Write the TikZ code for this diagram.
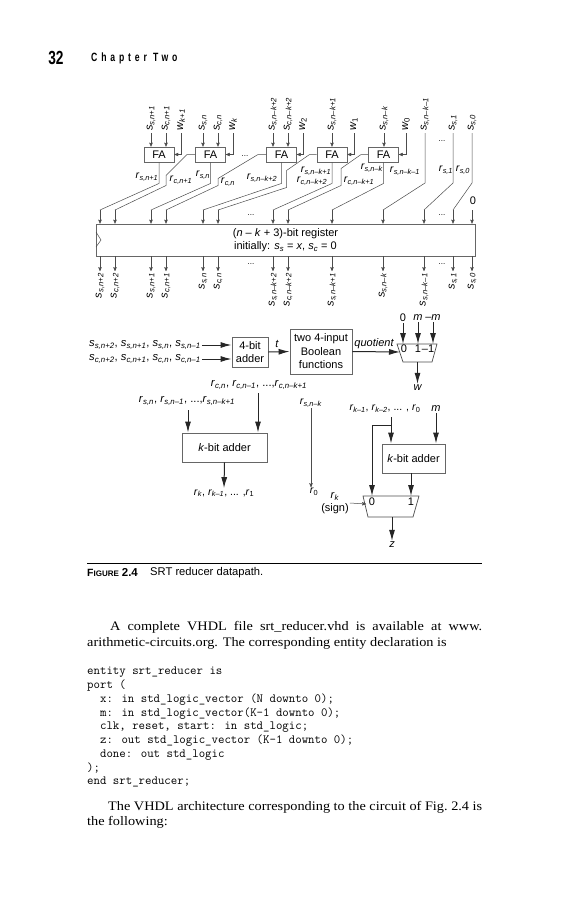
\documentclass[tikz,border=0pt]{standalone}
\usepackage{fontspec}
\usepackage{tikz}
\usetikzlibrary{arrows,arrows.meta}
\setmainfont{Liberation Sans}
\newfontfamily\bookfont[FakeStretch=1.1]{Liberation Serif}
\newfontfamily\headfont[FakeStretch=0.72]{Liberation Sans}
\newfontfamily\chapfont[FakeStretch=0.72,LetterSpace=32]{Liberation Sans}
\tikzset{
  >=stealth',
  wire/.style={draw=black!70, line width=0.5pt},
  bus/.style={draw=black!85, line width=1pt, -{Latex[length=11pt,width=6pt]}},
  block/.style={draw=black!60, line width=0.9pt, inner sep=0pt, align=center, font=\fontsize{11}{13.5}\selectfont},
  fabox/.style={block, minimum width=30pt, minimum height=15pt},
  muxline/.style={draw=black!70, line width=0.7pt},
  lab/.style={inner sep=1pt, font=\fontsize{10.5}{12}\selectfont},
  listlab/.style={inner sep=1pt, font=\fontsize{11.2}{13}\selectfont},
  toplab/.style={lab, rotate=90, anchor=west, inner sep=2pt, font=\fontsize{11}{12}\selectfont},
  botlab/.style={lab, rotate=90, anchor=east, inner sep=2pt, font=\fontsize{11}{12}\selectfont},
  small/.style={inner sep=1pt, font=\fontsize{11}{13}\selectfont},
  smallit/.style={inner sep=1pt, font=\itshape\fontsize{11}{13}\selectfont},
  dots/.style={inner sep=0pt, font=\fontsize{8}{10}\selectfont},
  book/.style={anchor=west, inner sep=0pt, font=\bookfont\fontsize{13}{15}\selectfont},
}
\newcommand{\lbl}[2]{\textit{#1}\textsubscript{\textit{#2}}}

\begin{document}
\begin{tikzpicture}[x=1pt, y=-1pt]
    \useasboundingbox (0,0) rectangle (567,900);

    \node[inner sep=0pt, font=\headfont\bfseries\fontsize{19}{19}\selectfont] (pageno) at (56,58) {32};
    \node[inner sep=0pt, anchor=west, font=\chapfont\bfseries\fontsize{12}{13}\selectfont] (chapter) at (91,58) {Chapter Two};

    \foreach \n/\x in {1/159, 2/210.5, 3/281.5, 4/332, 5/383.5}
        \node[fabox] (fa\n) at (\x,154.5) {FA};
    \node[block, minimum width=379pt, minimum height=32pt] (reg) at (285.5,240)
        {(\textit{n} -- \textit{k} + 3)-bit register\\initially: \lbl{s}{s} = \textit{x}, \lbl{s}{c} = 0};
    \coordinate (clka) at (96,232);
    \coordinate (clkb) at (101,240);
    \coordinate (clkc) at (96,247);
    \draw[wire] (clka) -- (clkb) -- (clkc);

    \foreach \n/\x/\b/\t in {a/151/fa1/{s,n+1}, b/166/fa1/{c,n+1}, c/203/fa2/{s,n}, d/218/fa2/{c,n},
                             e/273/fa3/{s,n--k+2}, f/288/fa3/{c,n--k+2}, g/332/fa4/{s,n--k+1}, h/384/fa5/{s,n--k}} {
        \node[toplab] (top\n) at (\x,133) {\lbl{s}{\t}};
        \draw[wire,->] (top\n.west) -- (top\n.west |- \b.north);
    }
    \foreach \n/\x/\b/\t in {a/181/fa1/{k+1}, b/233/fa2/k, c/303/fa3/\textup{2}, d/354/fa4/\textup{1}, e/406/fa5/\textup{0}} {
        \node[toplab] (w\n) at (\x,133) {\lbl{w}{\t}};
        \draw[wire,->] (w\n.west) |- (\b.east);
    }
    \foreach \n/\x/\t in {i/425/{s,n--k--1}, j/453/{s,1}, k/472/{s,0}}
        \node[toplab] (top\n) at (\x,133) {\lbl{s}{\t}};

    \foreach \n/\x/\t in {a/100/{s,n+2}, b/115/{c,n+2}, c/151/{s,n+1}, d/166/{c,n+1}, e/203/{s,n}, f/218/{c,n},
                          g/273/{s,n--k+2}, h/288/{c,n--k+2}, i/332/{s,n--k+1}, j/383/{s,n--k},
                          k/424/{s,n--k--1}, l/453/{s,1}, m/472/{s,0}} {
        \coordinate (in\n) at (\x,210);
        \node[botlab] (out\n) at (\x,271) {\lbl{s}{\t}};
        \draw[wire,->] (in\n) -- (in\n |- reg.north);
        \draw[wire,->] (in\n |- reg.south) -- (out\n.east);
    }

    \path[wire]
      (fa1.south) edge [to path={-- ++(0,21) -- (\tikztotarget)}] (ina)
      (fa2.south) edge [to path={-- ++(0,21) -- (\tikztotarget)}] (inc)
      (fa3.south) edge [to path={-- ++(0,21) -- (\tikztotarget)}] (ine)
      (fa4.south) edge [to path={-- ++(0,21) -- (\tikztotarget)}] (ing)
      (fa5.south) edge [to path={-- ++(0,21) -- (\tikztotarget)}] (ini)
      (fa2.west) edge [to path={-- ++(-8,0) -- ++(-21,21) -- ++(0,10) -- (\tikztotarget)}] (inb)
      (fa3.west) edge [to path={-- ++(-8,0) -- ++(-40,24) -- ++(0,7) -- (\tikztotarget)}] (ind)
      (fa4.west) edge [to path={-- ++(-7,0) -- ++(-23,16) -- ++(0,17) -- (\tikztotarget)}] (inf)
      (fa5.west) edge [to path={-- ++(-7,0) -- ++(-20,14) -- ++(0,17) -- (\tikztotarget)}] (inh)
      (topi.west) edge [to path={-- ++(0,50) -- (\tikztotarget)}] (inj)
      (topj.west) edge [to path={-- ++(0,50) -- (\tikztotarget)}] (ink)
      (topk.west) edge [to path={-- ++(0,50) -- (\tikztotarget)}] (inl);

    \foreach \n/\x/\y/\t in {a/147/177/{s,n+1}, b/181/180/{c,n+1}, c/203/175/{s,n}, d/228/182/{c,n},
                             e/262/178/{s,n--k+2}, f/316/171/{s,n--k+1}, g/312/181/{c,n--k+2},
                             h/372/168/{s,n--k}, i/405/171/{s,n--k--1}, j/359/181/{c,n--k+1},
                             k/446/170/{s,1}, l/463/170/{s,0}}
        \node[lab] (rr\n) at (\x,\y) {\lbl{r}{\t}};

    \node[small] (zero) at (473,201) {0};
    \foreach \n/\x/\y in {a/245/156, b/442/141, c/251/215, d/442/215, e/251/264, f/442/264}
        \node[dots] (dots\n) at (\x,\y) {...};

    \node[block, minimum width=36pt, minimum height=30pt] (add4) at (250,352) {4-bit\\adder};
    \node[block, minimum width=62pt, minimum height=45pt] (func) at (321,351.5) {two 4-input\\Boolean\\functions};
    \node[listlab, anchor=west] (ssum) at (88,345) {\lbl{s}{s,n+2}, \lbl{s}{s,n+1}, \lbl{s}{s,n}, \lbl{s}{s,n--1}};
    \node[listlab, anchor=west] (csum) at (88,359) {\lbl{s}{c,n+2}, \lbl{s}{c,n+1}, \lbl{s}{c,n}, \lbl{s}{c,n--1}};
    \draw[bus] (ssum.east) -- (ssum.east -| add4.west);
    \draw[bus] (csum.east) -- (csum.east -| add4.west);
    \draw[bus] (add4.east) -- (func.west);
    \node[smallit] (tlab) at (277,344) {t};
    \node[smallit] (quot) at (374,344) {quotient};

    \coordinate (mux1nw) at (397,344);
    \coordinate (mux1ne) at (437,344);
    \coordinate (mux1se) at (432,362);
    \coordinate (mux1sw) at (403,362);
    \coordinate (mux1w) at (400,352);
    \coordinate (mux1s) at (417.5,362);
    \draw[muxline] (mux1nw) -- (mux1ne) -- (mux1se) -- (mux1sw) -- cycle;
    \foreach \n/\x/\t in {a/403/0, b/418/\textit{m}, c/433/--\textit{m}} {
        \node[small] (sel\n) at (\x,318) {\t};
        \draw[bus] (sel\n.south) -- (sel\n.south |- mux1nw);
    }
    \foreach \n/\x/\t in {a/404/0, b/418/1, c/428/--1}
        \node[small] (m\n) at (\x,349) {\t};
    \draw[bus] (func.east) -- (mux1w);
    \node[smallit] (wout) at (417.5,388) {w};
    \draw[bus] (mux1s) -- (wout.north);

    \node[listlab] (rclist) at (259,385) {\lbl{r}{c,n}, \lbl{r}{c,n--1}, ...,\lbl{r}{c,n--k+1}};
    \node[listlab] (rslist) at (187,401) {\lbl{r}{s,n}, \lbl{r}{s,n--1}, ...,\lbl{r}{s,n--k+1}};
    \node[block, minimum width=85pt, minimum height=29pt] (kadd1) at (224.5,447.5) {\textit{k}-bit adder};
    \coordinate (rctap) at (258,393);
    \coordinate (rstap) at (188,410);
    \draw[bus] (rctap) -- (rctap |- kadd1.north);
    \draw[bus] (rstap) -- (rstap |- kadd1.north);
    \node[lab] (rkout) at (224,493) {\lbl{r}{k}, \lbl{r}{k--1}, ... ,\lbl{r}{\textup{1}}};
    \draw[bus] (kadd1.south) -- (rkout.north);

    \node[lab] (rsnk) at (311,403) {\lbl{r}{s,n--k}};
    \node[lab] (rzero) at (314,492) {\lbl{r}{\textup{0}}};
    \draw[wire,->] (rsnk.south) -- (rsnk.south |- rzero.north);

    \node[lab] (rhigh) at (385,409) {\lbl{r}{k--1}, \lbl{r}{k--2}, ... , \lbl{r}{\textup{0}}};
    \node[smallit] (mtop) at (436,409) {m};
    \node[block, minimum width=63pt, minimum height=29pt] (kadd2) at (413.5,458.5) {\textit{k}-bit adder};
    \coordinate (mux2nw) at (363,496);
    \coordinate (mux2ne) at (419,496);
    \coordinate (mux2se) at (413,517);
    \coordinate (mux2sw) at (368,517);
    \coordinate (mux2w) at (366,504);
    \coordinate (mux2s) at (392,517);
    \draw[muxline] (mux2nw) -- (mux2ne) -- (mux2se) -- (mux2sw) -- cycle;
    \node[small] (mza) at (372,502) {0};
    \node[small] (mzb) at (411,502) {1};
    \coordinate (rtap) at (391,417);
    \coordinate (rbend) at (391,425);
    \draw[bus] (rtap) -- (rtap |- kadd2.north);
    \draw[bus] (rbend) -| (mza.center |- mux2nw);
    \draw[bus] (mtop.south) -- (mtop.south |- kadd2.north);
    \draw[bus] (mzb |- kadd2.south) -- (mzb |- mux2nw);
    \node[lab, align=center, font=\fontsize{11}{13}\selectfont] (sign) at (335,503) {\lbl{r}{k}\\(sign)};
    \draw[wire,->] (sign.east) -- (mux2w);
    \node[smallit] (zout) at (392,545) {z};
    \draw[bus] (mux2s) -- (zout.north);

    \coordinate (rulea) at (87,563);
    \coordinate (ruleb) at (482,563);
    \draw[line width=0.9pt] (rulea) -- (ruleb);
    \node[inner sep=0pt, anchor=west, font=\bfseries\fontsize{10.5}{11}\selectfont] (figno) at (87,572.5)
        {F{\fontsize{8}{9}\selectfont IGURE} \fontsize{11.5}{11}\selectfont 2.4};
    \node[inner sep=0pt, anchor=west, font=\fontsize{11.2}{12}\selectfont] (caption) at (150,572.5) {SRT reducer datapath.};

    \node[book] (para1) at (110,627) {\makebox[372pt][s]{A complete VHDL file srt\_reducer.vhd is available at www.}};
    \node[book] (para2) at (87,643) {arithmetic-circuits.org. The corresponding entity declaration is};
    \node[anchor=north west, inner sep=0pt, align=left, font=\ttfamily\fontsize{12.5}{13.75}\selectfont] (code) at (87,667)
        {entity srt\_reducer is\\
         port (\\
         ~~x: in std\_logic\_vector (N downto 0);\\
         ~~m: in std\_logic\_vector(K-1 downto 0);\\
         ~~clk, reset, start: in std\_logic;\\
         ~~z: out std\_logic\_vector (K-1 downto 0);\\
         ~~done: out std\_logic\\
         );\\
         end srt\_reducer;};
    \node[book] (para3) at (108,807) {\makebox[374pt][s]{The VHDL architecture corresponding to the circuit of Fig.~2.4 is}};
    \node[book] (para4) at (87,822) {the following:};
\end{tikzpicture}
\end{document}
